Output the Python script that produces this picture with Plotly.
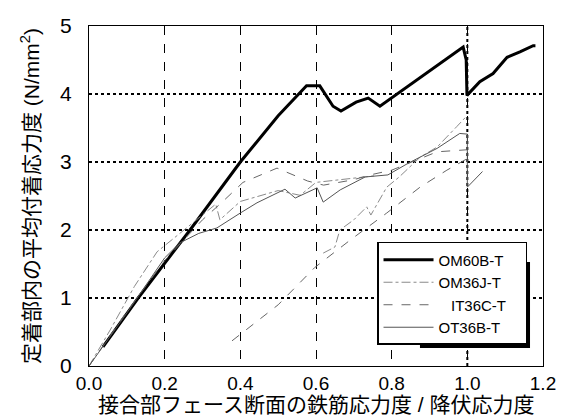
import plotly.graph_objects as go

# Bond stress vs. normalized rebar stress at the joint face
om60b_x = [0.037, 0.13, 0.267, 0.40, 0.50, 0.575, 0.61, 0.645, 0.666, 0.706, 0.738, 0.769,
           0.989, 0.997, 0.999, 1.033, 1.068, 1.105, 1.139, 1.174, 1.18]
om60b_y = [0.28, 1.00, 2.00, 3.00, 3.68, 4.12, 4.12, 3.82, 3.75, 3.88, 3.94, 3.82,
           4.69, 4.50, 3.98, 4.18, 4.30, 4.54, 4.62, 4.71, 4.71]

om36j_x = [0.0, 0.056, 0.12, 0.18, 0.24, 0.30, 0.335, 0.346, 0.40, 0.50, 0.558, 0.60, 0.70, 0.76,
           None, 0.619, 0.65, 0.663, 0.70, 0.734, 0.745, 0.787, 0.82, 0.875, 0.92, 0.972, 0.994]
om36j_y = [0.0, 0.53, 1.17, 1.68, 1.95, 2.22, 2.38, 2.15, 2.42, 2.58, 2.51, 2.70, 2.76, 2.80,
           None, 1.66, 1.75, 2.00, 2.15, 2.34, 2.22, 2.63, 2.78, 3.07, 3.22, 3.52, 3.65]

it36c_x = [0.0, 0.10, 0.20, 0.30, 0.35, 0.407, 0.497, 0.53, 0.578, 0.62, 0.70, 0.743, 0.80, 0.92, 1.0,
           None, 0.378, 0.50, 0.597, 0.69, 0.787, 0.875, 0.946, 1.0]
it36c_y = [0.0, 0.80, 1.55, 2.15, 2.40, 2.70, 2.91, 2.83, 2.72, 2.66, 2.74, 2.81, 2.88, 3.15, 3.18,
           None, 0.37, 0.90, 1.45, 1.85, 2.25, 2.63, 2.88, 3.05]

ot36b_x = [0.0, 0.10, 0.20, 0.24, 0.29, 0.338, 0.40, 0.444, 0.518, 0.545, 0.603, 0.619, 0.664,
           0.73, 0.79, 0.843, 0.92, 0.98, 1.0, 1.0, 1.04]
ot36b_y = [0.0, 0.78, 1.59, 1.81, 1.95, 2.03, 2.25, 2.40, 2.60, 2.47, 2.62, 2.41, 2.59,
           2.78, 2.81, 2.98, 3.20, 3.42, 3.41, 2.63, 2.86]

x_ticks = [0.0, 0.2, 0.4, 0.6, 0.8, 1.0, 1.2]
y_ticks = [0, 1, 2, 3, 4, 5]

FONT = "Liberation Sans, Arial, Noto Sans CJK JP"
NB = "\u00a0"

fig = go.Figure()
fig.add_trace(go.Scatter(x=om60b_x, y=om60b_y, mode="lines", name="OM60B-T" + NB * 4,
                         line=dict(color="black", width=3)))
fig.add_trace(go.Scatter(x=om36j_x, y=om36j_y, mode="lines", name="OM36J-T",
                         line=dict(color="#8a8a8a", width=1, dash="dashdot")))
fig.add_trace(go.Scatter(x=it36c_x, y=it36c_y, mode="lines", name=NB * 3 + "IT36C-T",
                         line=dict(color="#666666", width=1, dash="dash")))
fig.add_trace(go.Scatter(x=ot36b_x, y=ot36b_y, mode="lines", name="OT36B-T",
                         line=dict(color="#555555", width=1)))

# emphasised yield line at x = 1.0
fig.add_shape(type="line", xref="x", yref="y", x0=1.0, x1=1.0, y0=0, y1=5,
              line=dict(color="black", width=2, dash="dot"), layer="below")

# drop shadow peeking out right and below the legend box
fig.add_shape(type="rect", xref="paper", yref="paper",
              x0=0.729, x1=0.9714, y0=0.0529, y1=0.3059,
              fillcolor="black", line=dict(width=0), layer="above")

fig.add_annotation(text="接合部フェース断面の鉄筋応力度 / 降伏応力度",
                   xref="paper", yref="paper", x=0.5, y=-0.1147,
                   xanchor="center", yanchor="middle", showarrow=False,
                   font=dict(size=21, family=FONT))

fig.update_layout(
    width=570, height=416,
    margin=dict(l=89, r=27, t=26, b=50, autoexpand=False),
    paper_bgcolor="white", plot_bgcolor="white",
    font=dict(family=FONT, size=17, color="black"),
    showlegend=True,
    legend=dict(x=0.9648, y=0.0618, xanchor="right", yanchor="bottom",
                bgcolor="white", bordercolor="black", borderwidth=1.5,
                font=dict(size=15, family=FONT), tracegroupgap=0,
                itemwidth=50, traceorder="normal"),
    xaxis=dict(range=[0, 1.2], tickvals=x_ticks, ticktext=[f"{v:.1f}" for v in x_ticks],
               showgrid=True, gridcolor="black", gridwidth=1, griddash="dash",
               zeroline=False, showline=True, linecolor="black", linewidth=1, mirror=True,
               ticks="", tickfont=dict(size=19), ticklabelstandoff=0, automargin=False),
    yaxis=dict(range=[0, 5], tickvals=y_ticks,
               showgrid=True, gridcolor="black", gridwidth=2, griddash="dot",
               zeroline=False, showline=True, linecolor="black", linewidth=1, mirror=True,
               ticks="", tickfont=dict(size=21), ticklabelstandoff=12, automargin=False,
               title=dict(text="定着部内の平均付着応力度 (N/mm<sup>2</sup>)",
                          font=dict(size=21), standoff=14)),
)

fig.write_html("out.html")
